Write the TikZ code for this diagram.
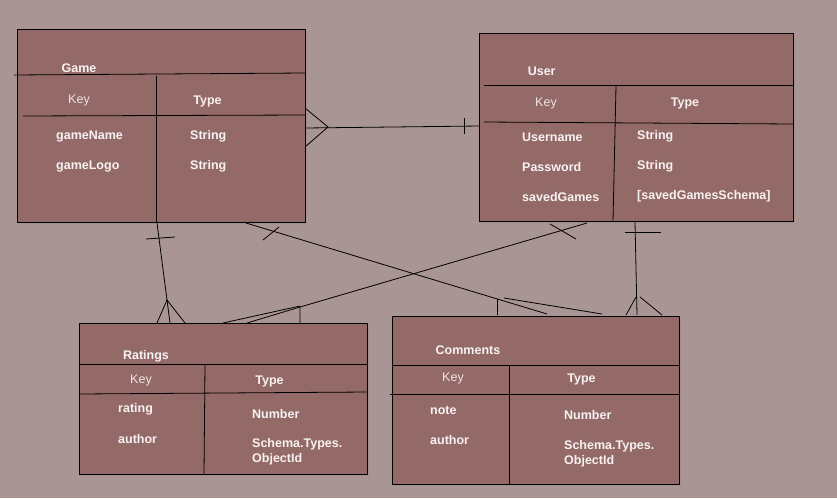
\documentclass[tikz,border=0pt]{standalone}
\usepackage{fontspec}
\setmainfont{Liberation Sans}
\usetikzlibrary{shadows}
\definecolor{bg}{HTML}{A99594}
\definecolor{boxfill}{HTML}{946A68}
\definecolor{txt}{HTML}{F7F2F2}
\begin{document}
\begin{tikzpicture}[x=1pt,y=-1pt,
  ent/.style={draw=black, line width=0.9pt, fill=boxfill, inner sep=0pt, anchor=north west,
    drop shadow={opacity=0.25, shadow xshift=1.5pt, shadow yshift=-2pt}},
  ln/.style={draw=black, line width=0.8pt},
  ttl/.style={font=\bfseries\fontsize{12.5}{15}\selectfont, text=txt, inner sep=0pt, yshift=-1pt},
  keyl/.style={font=\fontsize{12.5}{15}\selectfont, text=txt!90!boxfill, inner sep=0pt, yshift=-1pt},
  fld/.style={font=\bfseries\fontsize{12.5}{15}\selectfont, text=txt, inner sep=0pt, anchor=west, align=left, yshift=-1.5pt}]
\fill[bg] (0,0) rectangle (837,498);
\useasboundingbox (0,0) rectangle (837,498);

% entity boxes
\node[ent, minimum width=288pt, minimum height=193pt] (game) at (17,29) {};
\node[ent, minimum width=314pt, minimum height=188pt] (user) at (479,33) {};
\node[ent, minimum width=288pt, minimum height=151pt] (ratings) at (79,323) {};
\node[ent, minimum width=287pt, minimum height=168pt] (comments) at (392,316) {};

% Game internals
\draw[ln] (14,75) -- (305,73);
\draw[ln] (156,76) -- (156,222);
\draw[ln] (23,116) -- (305,115);
\node[ttl] (gT) at (79,67) {Game};
\node[keyl] (gK) at (79,99) {Key};
\node[ttl] (gY) at (207.5,100) {Type};
\node[fld] (g1) at (56,135) {gameName};
\node[fld] (g2) at (56,165) {gameLogo};
\node[fld] (g3) at (190,135) {String};
\node[fld] (g4) at (190,165) {String};

% User internals
\draw[ln] (484,85) -- (793,85);
\draw[ln] (616,86) -- (613,221);
\draw[ln] (484,122) -- (793,124);
\node[ttl] (uT) at (541.7,70) {User};
\node[keyl] (uK) at (546,102) {Key};
\node[ttl] (uY) at (685,102) {Type};
\node[fld] (u1) at (522,136) {Username};
\node[fld] (u2) at (522,166) {Password};
\node[fld] (u3) at (522,196) {savedGames};
\node[fld] (u4) at (637,135) {String};
\node[fld] (u5) at (637,165) {String};
\node[fld] (u6) at (637,195) {[savedGamesSchema]};

% Ratings internals
\draw[ln] (79,364) -- (367,364);
\draw[ln] (205,365) -- (204,474);
\draw[ln] (79,394) -- (367,392);
\node[ttl] (rT) at (146,355) {Ratings};
\node[keyl] (rK) at (141,379) {Key};
\node[ttl] (rY) at (269.5,380) {Type};
\node[fld] (r1) at (118,408) {rating};
\node[fld] (r2) at (118,438) {author};
\node[fld] (r3) at (252,413) {Number};
\node[fld] (r4) at (252,450.5) {Schema.Types.\\ObjectId};

% Comments internals
\draw[ln] (392,365) -- (679,365);
\draw[ln] (509,365) -- (509,484);
\draw[ln] (390,394) -- (679,394);
\node[ttl] (cT) at (468,349) {Comments};
\node[keyl] (cK) at (453,377) {Key};
\node[ttl] (cY) at (581.5,378) {Type};
\node[fld] (c1) at (430,409) {note};
\node[fld] (c2) at (430,439) {author};
\node[fld] (c3) at (564,414) {Number};
\node[fld] (c4) at (564,452) {Schema.Types.\\ObjectId};

% connector end points
\coordinate (gu1) at (305,128);
\coordinate (gu2) at (480,126);
\coordinate (gr1) at (157,223);
\coordinate (gr2) at (170,323);
\coordinate (gc1) at (246,223);
\coordinate (gc2) at (547,314);
\coordinate (ur1) at (587,223);
\coordinate (ur2) at (300,307);
\coordinate (uc1) at (635,222);
\coordinate (uc2) at (637,315);

% Game - User
\draw[ln] (gu1) -- (gu2);
\draw[ln] (305,108) -- (328,127) -- (305,147);
\draw[ln] (464,118) -- (464,134);

% Game - Ratings
\draw[ln] (gr1) -- (gr2);
\draw[ln] (146,239) -- (175,237);
\draw[ln] (157,323) -- (167,300) -- (185,323);

% Game - Comments
\draw[ln] (gc1) -- (gc2);
\draw[ln] (263,240) -- (279,227);
\draw[ln] (497,299) -- (497,315);
\draw[ln] (504,298) -- (602,314);

% User - Ratings
\draw[ln] (ur1) -- (ur2) -- (300,323);
\draw[ln] (223,323) -- (300,306);
\draw[ln] (247,323) -- (300,307);
\draw[ln] (550,224) -- (576,239);

% User - Comments
\draw[ln] (uc1) -- (uc2);
\draw[ln] (625,232) -- (661,232);
\draw[ln] (626,315) -- (636,297);
\draw[ln] (640,297) -- (662,315);
\end{tikzpicture}
\end{document}
